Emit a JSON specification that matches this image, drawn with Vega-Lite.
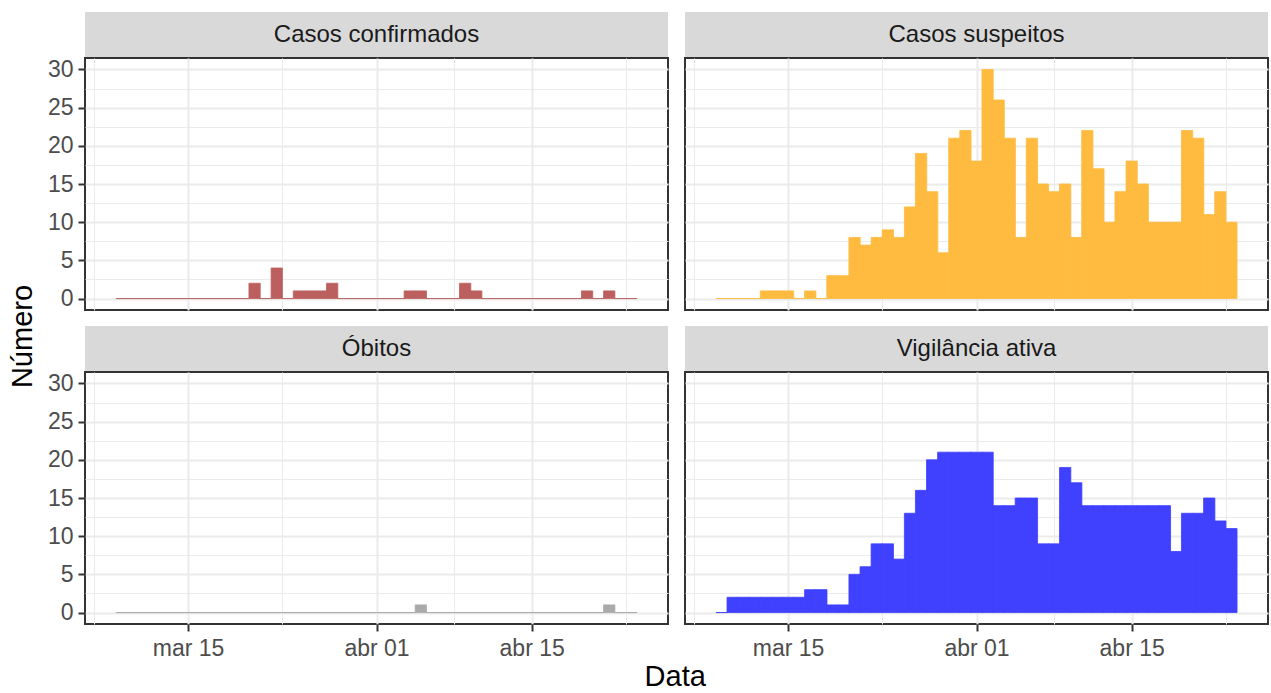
{
  "$schema": "https://vega.github.io/schema/vega-lite/v6.json",
  "padding": {"left": 9, "top": 12, "right": 2, "bottom": 2},
  "background": "white",
  "config": {
    "font": "Liberation Sans",
    "view": {"stroke": "#333333", "strokeWidth": 2},
    "axis": {"labelFont": "Liberation Sans", "labelFontSize": 23, "labelColor": "#4D4D4D", "gridColor": "#EBEBEB", "tickColor": "#333333", "tickWidth": 2, "tickSize": 7, "domain": false, "title": null, "labelFlush": false, "labelOverlap": false}
  },
  "datasets": {
    "d": [
      {"date": "2020-03-09", "confirmados": 0, "suspeitos": 0, "obitos": 0, "vigilancia": 0},
      {"date": "2020-03-10", "confirmados": 0, "suspeitos": 0, "obitos": 0, "vigilancia": 2},
      {"date": "2020-03-11", "confirmados": 0, "suspeitos": 0, "obitos": 0, "vigilancia": 2},
      {"date": "2020-03-12", "confirmados": 0, "suspeitos": 0, "obitos": 0, "vigilancia": 2},
      {"date": "2020-03-13", "confirmados": 0, "suspeitos": 1, "obitos": 0, "vigilancia": 2},
      {"date": "2020-03-14", "confirmados": 0, "suspeitos": 1, "obitos": 0, "vigilancia": 2},
      {"date": "2020-03-15", "confirmados": 0, "suspeitos": 1, "obitos": 0, "vigilancia": 2},
      {"date": "2020-03-16", "confirmados": 0, "suspeitos": 0, "obitos": 0, "vigilancia": 2},
      {"date": "2020-03-17", "confirmados": 0, "suspeitos": 1, "obitos": 0, "vigilancia": 3},
      {"date": "2020-03-18", "confirmados": 0, "suspeitos": 0, "obitos": 0, "vigilancia": 3},
      {"date": "2020-03-19", "confirmados": 0, "suspeitos": 3, "obitos": 0, "vigilancia": 1},
      {"date": "2020-03-20", "confirmados": 0, "suspeitos": 3, "obitos": 0, "vigilancia": 1},
      {"date": "2020-03-21", "confirmados": 2, "suspeitos": 8, "obitos": 0, "vigilancia": 5},
      {"date": "2020-03-22", "confirmados": 0, "suspeitos": 7, "obitos": 0, "vigilancia": 6},
      {"date": "2020-03-23", "confirmados": 4, "suspeitos": 8, "obitos": 0, "vigilancia": 9},
      {"date": "2020-03-24", "confirmados": 0, "suspeitos": 9, "obitos": 0, "vigilancia": 9},
      {"date": "2020-03-25", "confirmados": 1, "suspeitos": 8, "obitos": 0, "vigilancia": 7},
      {"date": "2020-03-26", "confirmados": 1, "suspeitos": 12, "obitos": 0, "vigilancia": 13},
      {"date": "2020-03-27", "confirmados": 1, "suspeitos": 19, "obitos": 0, "vigilancia": 16},
      {"date": "2020-03-28", "confirmados": 2, "suspeitos": 14, "obitos": 0, "vigilancia": 20},
      {"date": "2020-03-29", "confirmados": 0, "suspeitos": 6, "obitos": 0, "vigilancia": 21},
      {"date": "2020-03-30", "confirmados": 0, "suspeitos": 21, "obitos": 0, "vigilancia": 21},
      {"date": "2020-03-31", "confirmados": 0, "suspeitos": 22, "obitos": 0, "vigilancia": 21},
      {"date": "2020-04-01", "confirmados": 0, "suspeitos": 18, "obitos": 0, "vigilancia": 21},
      {"date": "2020-04-02", "confirmados": 0, "suspeitos": 30, "obitos": 0, "vigilancia": 21},
      {"date": "2020-04-03", "confirmados": 0, "suspeitos": 26, "obitos": 0, "vigilancia": 14},
      {"date": "2020-04-04", "confirmados": 1, "suspeitos": 21, "obitos": 0, "vigilancia": 14},
      {"date": "2020-04-05", "confirmados": 1, "suspeitos": 8, "obitos": 1, "vigilancia": 15},
      {"date": "2020-04-06", "confirmados": 0, "suspeitos": 21, "obitos": 0, "vigilancia": 15},
      {"date": "2020-04-07", "confirmados": 0, "suspeitos": 15, "obitos": 0, "vigilancia": 9},
      {"date": "2020-04-08", "confirmados": 0, "suspeitos": 14, "obitos": 0, "vigilancia": 9},
      {"date": "2020-04-09", "confirmados": 2, "suspeitos": 15, "obitos": 0, "vigilancia": 19},
      {"date": "2020-04-10", "confirmados": 1, "suspeitos": 8, "obitos": 0, "vigilancia": 17},
      {"date": "2020-04-11", "confirmados": 0, "suspeitos": 22, "obitos": 0, "vigilancia": 14},
      {"date": "2020-04-12", "confirmados": 0, "suspeitos": 17, "obitos": 0, "vigilancia": 14},
      {"date": "2020-04-13", "confirmados": 0, "suspeitos": 10, "obitos": 0, "vigilancia": 14},
      {"date": "2020-04-14", "confirmados": 0, "suspeitos": 14, "obitos": 0, "vigilancia": 14},
      {"date": "2020-04-15", "confirmados": 0, "suspeitos": 18, "obitos": 0, "vigilancia": 14},
      {"date": "2020-04-16", "confirmados": 0, "suspeitos": 15, "obitos": 0, "vigilancia": 14},
      {"date": "2020-04-17", "confirmados": 0, "suspeitos": 10, "obitos": 0, "vigilancia": 14},
      {"date": "2020-04-18", "confirmados": 0, "suspeitos": 10, "obitos": 0, "vigilancia": 14},
      {"date": "2020-04-19", "confirmados": 0, "suspeitos": 10, "obitos": 0, "vigilancia": 8},
      {"date": "2020-04-20", "confirmados": 1, "suspeitos": 22, "obitos": 0, "vigilancia": 13},
      {"date": "2020-04-21", "confirmados": 0, "suspeitos": 21, "obitos": 0, "vigilancia": 13},
      {"date": "2020-04-22", "confirmados": 1, "suspeitos": 11, "obitos": 1, "vigilancia": 15},
      {"date": "2020-04-23", "confirmados": 0, "suspeitos": 14, "obitos": 0, "vigilancia": 12},
      {"date": "2020-04-24", "confirmados": 0, "suspeitos": 10, "obitos": 0, "vigilancia": 11}
    ]
  },
  "title": {"text": "Data", "orient": "bottom", "anchor": "middle", "fontSize": 29, "fontWeight": "normal", "color": "#000000", "font": "Liberation Sans", "offset": 2, "dx": 36},
  "vconcat": [
    {
      "title": {"text": "Número", "orient": "left", "anchor": "middle", "fontSize": 29, "fontWeight": "normal", "color": "#000000", "font": "Liberation Sans", "offset": 8},
      "spacing": 14,
      "vconcat": [
        {
          "spacing": 15,
          "hconcat": [
            {
              "spacing": 0,
              "vconcat": [
                {
                  "width": 583, "height": 45,
                  "view": {"fill": "#D9D9D9"},
                  "data": {"values": [{"t": "Casos confirmados"}]},
                  "mark": {"type": "text", "fontSize": 24, "color": "#1A1A1A", "font": "Liberation Sans"},
                  "encoding": {"text": {"field": "t"}}
                },
                {
                  "width": 583, "height": 252,
                  "data": {"name": "d"},
                  "mark": {"type": "bar", "width": 11.28, "color": "#BC5F5F", "stroke": "#BC5F5F", "strokeWidth": 0.8},
                  "encoding": {
                    "x": {"field": "date", "type": "temporal",
                      "scale": {"type": "utc", "domain": [{"year": 2020, "month": 3, "date": 6, "hours": 3, "minutes": 36, "utc": true}, {"year": 2020, "month": 4, "date": 26, "hours": 20, "minutes": 24, "utc": true}]},
                      "axis": {"values": [{"year": 2020, "month": 3, "date": 6, "hours": 12, "utc": true}, {"year": 2020, "month": 3, "date": 15, "utc": true}, {"year": 2020, "month": 3, "date": 23, "hours": 12, "utc": true}, {"year": 2020, "month": 4, "date": 1, "utc": true}, {"year": 2020, "month": 4, "date": 8, "utc": true}, {"year": 2020, "month": 4, "date": 15, "utc": true}, {"year": 2020, "month": 4, "date": 23, "hours": 12, "utc": true}],
                        "labels": false, "ticks": false,
                        "gridWidth": {"condition": {"test": "utcdate(datum.value)==15 || utcdate(datum.value)==1", "value": 2}, "value": 1}}},
                    "y": {"field": "confirmados", "type": "quantitative",
                      "scale": {"domain": [-1.5, 31.5], "nice": false, "zero": false},
                      "axis": {"values": [0, 2.5, 5, 7.5, 10, 12.5, 15, 17.5, 20, 22.5, 25, 27.5, 30],
                        "labelExpr": "datum.value % 5 === 0 ? datum.label : ''", "labelPadding": 5,
                        "tickOpacity": {"condition": {"test": "datum.value % 5 === 0", "value": 1}, "value": 0},
                        "gridWidth": {"condition": {"test": "datum.value % 5 === 0", "value": 2}, "value": 1}}},
                    "y2": {"datum": 0}
                  }
                }
              ]
            },
            {
              "spacing": 0,
              "vconcat": [
                {
                  "width": 583, "height": 45,
                  "view": {"fill": "#D9D9D9"},
                  "data": {"values": [{"t": "Casos suspeitos"}]},
                  "mark": {"type": "text", "fontSize": 24, "color": "#1A1A1A", "font": "Liberation Sans"},
                  "encoding": {"text": {"field": "t"}}
                },
                {
                  "width": 583, "height": 252,
                  "data": {"name": "d"},
                  "mark": {"type": "bar", "width": 11.28, "color": "#FFBB40", "stroke": "#FFBB40", "strokeWidth": 0.8},
                  "encoding": {
                    "x": {"field": "date", "type": "temporal",
                      "scale": {"type": "utc", "domain": [{"year": 2020, "month": 3, "date": 6, "hours": 3, "minutes": 36, "utc": true}, {"year": 2020, "month": 4, "date": 26, "hours": 20, "minutes": 24, "utc": true}]},
                      "axis": {"values": [{"year": 2020, "month": 3, "date": 6, "hours": 12, "utc": true}, {"year": 2020, "month": 3, "date": 15, "utc": true}, {"year": 2020, "month": 3, "date": 23, "hours": 12, "utc": true}, {"year": 2020, "month": 4, "date": 1, "utc": true}, {"year": 2020, "month": 4, "date": 8, "utc": true}, {"year": 2020, "month": 4, "date": 15, "utc": true}, {"year": 2020, "month": 4, "date": 23, "hours": 12, "utc": true}],
                        "labels": false, "ticks": false,
                        "gridWidth": {"condition": {"test": "utcdate(datum.value)==15 || utcdate(datum.value)==1", "value": 2}, "value": 1}}},
                    "y": {"field": "suspeitos", "type": "quantitative",
                      "scale": {"domain": [-1.5, 31.5], "nice": false, "zero": false},
                      "axis": {"values": [0, 2.5, 5, 7.5, 10, 12.5, 15, 17.5, 20, 22.5, 25, 27.5, 30],
                        "labels": false, "ticks": false,
                        "gridWidth": {"condition": {"test": "datum.value % 5 === 0", "value": 2}, "value": 1}}},
                    "y2": {"datum": 0}
                  }
                }
              ]
            }
          ]
        },
        {
          "spacing": 15,
          "hconcat": [
            {
              "spacing": 0,
              "vconcat": [
                {
                  "width": 583, "height": 45,
                  "view": {"fill": "#D9D9D9"},
                  "data": {"values": [{"t": "Óbitos"}]},
                  "mark": {"type": "text", "fontSize": 24, "color": "#1A1A1A", "font": "Liberation Sans"},
                  "encoding": {"text": {"field": "t"}}
                },
                {
                  "width": 583, "height": 252,
                  "data": {"name": "d"},
                  "mark": {"type": "bar", "width": 11.28, "color": "#AAAAAA", "stroke": "#AAAAAA", "strokeWidth": 0.8},
                  "encoding": {
                    "x": {"field": "date", "type": "temporal",
                      "scale": {"type": "utc", "domain": [{"year": 2020, "month": 3, "date": 6, "hours": 3, "minutes": 36, "utc": true}, {"year": 2020, "month": 4, "date": 26, "hours": 20, "minutes": 24, "utc": true}]},
                      "axis": {"values": [{"year": 2020, "month": 3, "date": 6, "hours": 12, "utc": true}, {"year": 2020, "month": 3, "date": 15, "utc": true}, {"year": 2020, "month": 3, "date": 23, "hours": 12, "utc": true}, {"year": 2020, "month": 4, "date": 1, "utc": true}, {"year": 2020, "month": 4, "date": 8, "utc": true}, {"year": 2020, "month": 4, "date": 15, "utc": true}, {"year": 2020, "month": 4, "date": 23, "hours": 12, "utc": true}],
                        "labelExpr": "(utcdate(datum.value)==15 || utcdate(datum.value)==1) ? ((utcmonth(datum.value)==2 ? 'mar ' : 'abr ') + utcFormat(datum.value, '%d')) : ''",
                        "labelPadding": 6,
                        "tickOpacity": {"condition": {"test": "utcdate(datum.value)==15 || utcdate(datum.value)==1", "value": 1}, "value": 0},
                        "gridWidth": {"condition": {"test": "utcdate(datum.value)==15 || utcdate(datum.value)==1", "value": 2}, "value": 1}}},
                    "y": {"field": "obitos", "type": "quantitative",
                      "scale": {"domain": [-1.5, 31.5], "nice": false, "zero": false},
                      "axis": {"values": [0, 2.5, 5, 7.5, 10, 12.5, 15, 17.5, 20, 22.5, 25, 27.5, 30],
                        "labelExpr": "datum.value % 5 === 0 ? datum.label : ''", "labelPadding": 5,
                        "tickOpacity": {"condition": {"test": "datum.value % 5 === 0", "value": 1}, "value": 0},
                        "gridWidth": {"condition": {"test": "datum.value % 5 === 0", "value": 2}, "value": 1}}},
                    "y2": {"datum": 0}
                  }
                }
              ]
            },
            {
              "spacing": 0,
              "vconcat": [
                {
                  "width": 583, "height": 45,
                  "view": {"fill": "#D9D9D9"},
                  "data": {"values": [{"t": "Vigilância ativa"}]},
                  "mark": {"type": "text", "fontSize": 24, "color": "#1A1A1A", "font": "Liberation Sans"},
                  "encoding": {"text": {"field": "t"}}
                },
                {
                  "width": 583, "height": 252,
                  "data": {"name": "d"},
                  "mark": {"type": "bar", "width": 11.28, "color": "#4040FF", "stroke": "#4040FF", "strokeWidth": 0.8},
                  "encoding": {
                    "x": {"field": "date", "type": "temporal",
                      "scale": {"type": "utc", "domain": [{"year": 2020, "month": 3, "date": 6, "hours": 3, "minutes": 36, "utc": true}, {"year": 2020, "month": 4, "date": 26, "hours": 20, "minutes": 24, "utc": true}]},
                      "axis": {"values": [{"year": 2020, "month": 3, "date": 6, "hours": 12, "utc": true}, {"year": 2020, "month": 3, "date": 15, "utc": true}, {"year": 2020, "month": 3, "date": 23, "hours": 12, "utc": true}, {"year": 2020, "month": 4, "date": 1, "utc": true}, {"year": 2020, "month": 4, "date": 8, "utc": true}, {"year": 2020, "month": 4, "date": 15, "utc": true}, {"year": 2020, "month": 4, "date": 23, "hours": 12, "utc": true}],
                        "labelExpr": "(utcdate(datum.value)==15 || utcdate(datum.value)==1) ? ((utcmonth(datum.value)==2 ? 'mar ' : 'abr ') + utcFormat(datum.value, '%d')) : ''",
                        "labelPadding": 6,
                        "tickOpacity": {"condition": {"test": "utcdate(datum.value)==15 || utcdate(datum.value)==1", "value": 1}, "value": 0},
                        "gridWidth": {"condition": {"test": "utcdate(datum.value)==15 || utcdate(datum.value)==1", "value": 2}, "value": 1}}},
                    "y": {"field": "vigilancia", "type": "quantitative",
                      "scale": {"domain": [-1.5, 31.5], "nice": false, "zero": false},
                      "axis": {"values": [0, 2.5, 5, 7.5, 10, 12.5, 15, 17.5, 20, 22.5, 25, 27.5, 30],
                        "labels": false, "ticks": false,
                        "gridWidth": {"condition": {"test": "datum.value % 5 === 0", "value": 2}, "value": 1}}},
                    "y2": {"datum": 0}
                  }
                }
              ]
            }
          ]
        }
      ]
    }
  ]
}
